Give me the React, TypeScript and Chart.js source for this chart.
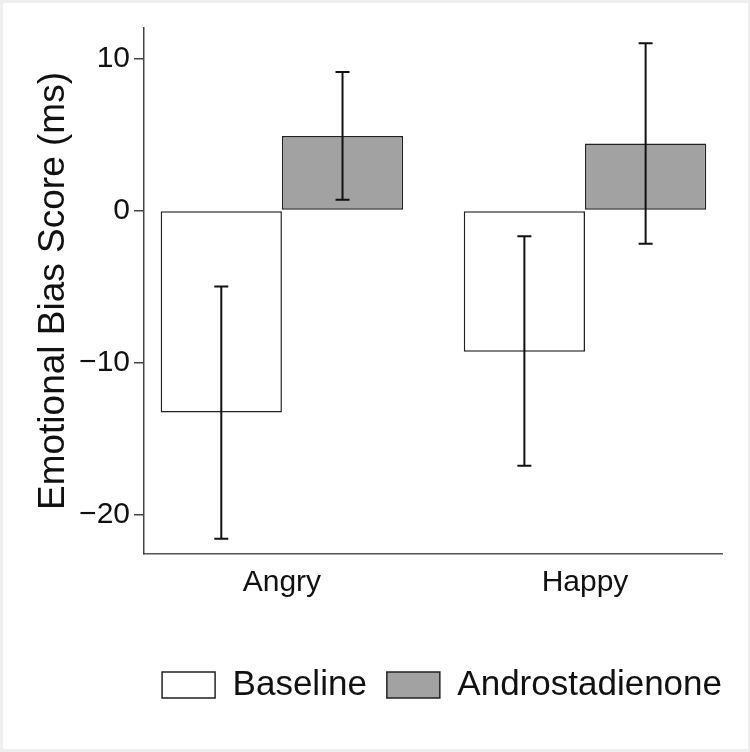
import { useEffect, useRef } from "react"
import { Chart, registerables } from "chart.js"

Chart.register(...registerables)

// emotion categories on the x axis
const categories = ["Angry", "Happy"]

// mean emotional bias score (ms) for each condition
const baselineMeans = [-13.3, -9.3]
const androMeans = [4.9, 4.4]

// error bar ends
const baselineLow = [-21.6, -16.8]
const baselineHigh = [-5.0, -1.7]
const androLow = [0.7, -2.2]
const androHigh = [9.1, 11.0]

const yTicks = [-20, -10, 0, 10]

const FONT = "'Liberation Sans', Arial, Helvetica, sans-serif"

const errorRanges = [
  [baselineLow, baselineHigh],
  [androLow, androHigh],
]

const errorBarPlugin = {
  id: "errorBars",
  afterDatasetsDraw(chart: any) {
    const { ctx } = chart
    const yScale = chart.scales.y
    ctx.save()
    ctx.strokeStyle = "#111"
    ctx.lineWidth = 2
    chart.data.datasets.forEach((_ds: any, di: number) => {
      const meta = chart.getDatasetMeta(di)
      const [lows, highs] = errorRanges[di]
      meta.data.forEach((bar: any, i: number) => {
        const x = bar.x
        const yLo = yScale.getPixelForValue(lows[i])
        const yHi = yScale.getPixelForValue(highs[i])
        ctx.beginPath()
        ctx.moveTo(x, yLo)
        ctx.lineTo(x, yHi)
        ctx.moveTo(x - 7, yLo)
        ctx.lineTo(x + 7, yLo)
        ctx.moveTo(x - 7, yHi)
        ctx.lineTo(x + 7, yHi)
        ctx.stroke()
      })
    })
    ctx.restore()
  },
}

// push the legend toward the right edge like the original figure
const legendShiftPlugin = {
  id: "legendShift",
  afterLayout(chart: any) {
    if (chart.legend) {
      chart.legend.left += 20
      chart.legend.right += 20
    }
  },
}

function BiasChart() {
  const canvasRef = useRef<HTMLCanvasElement>(null)
  const chartRef = useRef<Chart | null>(null)

  useEffect(() => {
    if (!canvasRef.current) return
    if (chartRef.current) chartRef.current.destroy()

    chartRef.current = new Chart(canvasRef.current, {
      type: "bar",
      data: {
        datasets: [
          {
            label: "Baseline",
            data: categories.map((_c, i) => ({ x: i, y: baselineMeans[i] })),
            backgroundColor: "#ffffff",
            borderColor: "#222",
            borderWidth: 1.5,
            borderSkipped: false,
          },
          {
            label: "Androstadienone",
            data: categories.map((_c, i) => ({ x: i, y: androMeans[i] })),
            backgroundColor: "#a2a2a2",
            borderColor: "#222",
            borderWidth: 1.5,
            borderSkipped: false,
          },
        ],
      },
      options: {
        animation: false,
        responsive: true,
        maintainAspectRatio: false,
        categoryPercentage: 0.8,
        barPercentage: 1,
        layout: { padding: { top: 25, right: 26, bottom: 36.5, left: 0 } },
        scales: {
          x: {
            type: "linear",
            offset: false,
            min: -0.455,
            max: 1.452,
            afterBuildTicks: (scale: any) => {
              scale.ticks = categories.map((_c, i) => ({ value: i }))
            },
            afterFit: (scale: any) => {
              scale.height = 93.5
            },
            ticks: {
              callback: (v: any) => categories[v] ?? "",
              color: "#111",
              padding: 3,
              font: { family: FONT, size: 30 },
            },
            grid: { display: false },
            border: { display: true, color: "#555", width: 1.5 },
          },
          y: {
            min: -22.6,
            max: 12,
            afterBuildTicks: (scale: any) => {
              scale.ticks = yTicks.map((v) => ({ value: v }))
            },
            afterFit: (scale: any) => {
              scale.width = 141
            },
            ticks: {
              callback: (v: any) => (v < 0 ? "\u2212" + Math.abs(v) : String(v)),
              color: "#111",
              padding: 4,
              font: { family: FONT, size: 30 },
            },
            grid: {
              drawOnChartArea: false,
              drawTicks: true,
              tickLength: 10,
              color: "#444",
              lineWidth: 1.5,
            },
            border: { display: true, color: "#444", width: 1.5 },
            title: {
              display: true,
              text: "Emotional Bias Score (ms)",
              color: "#111",
              padding: { top: 29, bottom: 0 },
              font: { family: FONT, size: 37 },
            },
          },
        },
        plugins: {
          legend: {
            position: "bottom",
            align: "end",
            labels: {
              boxWidth: 53,
              boxHeight: 26,
              padding: 20,
              color: "#111",
              font: { family: FONT, size: 35 },
            },
          },
          tooltip: { enabled: false },
        },
      },
      plugins: [errorBarPlugin, legendShiftPlugin],
    })

    return () => {
      if (chartRef.current) {
        chartRef.current.destroy()
        chartRef.current = null
      }
    }
  }, [])

  return <canvas ref={canvasRef} />
}

export default function App() {
  return (
    <div
      style={{
        position: "absolute",
        left: 0,
        top: 0,
        width: 750,
        height: 752,
        background: "#efefef",
      }}
    >
      <div
        style={{
          position: "absolute",
          left: 3,
          top: 3,
          width: 745,
          height: 746,
          background: "#ffffff",
        }}
      >
        <BiasChart />
      </div>
    </div>
  )
}
